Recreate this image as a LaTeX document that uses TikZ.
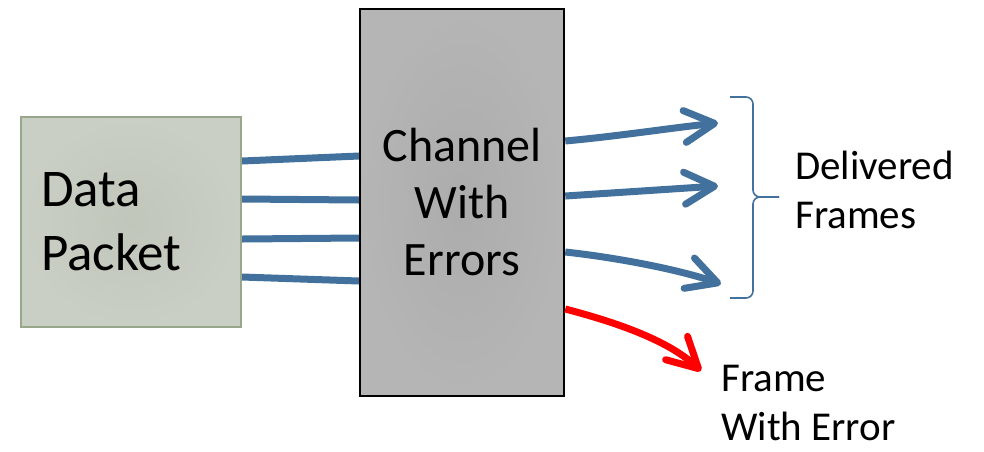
\documentclass[tikz,border=0pt]{standalone}
\usepackage{fontspec}
\setmainfont{Carlito}
\usepackage{tikz}
\usetikzlibrary{arrows.meta}

\definecolor{wireblue}{HTML}{41719C}
\definecolor{packetfill}{HTML}{C9CFC4}
\definecolor{packetdark}{HTML}{C0C6BA}
\definecolor{packetline}{HTML}{98A68B}

\begin{document}
\begin{tikzpicture}[x=1pt,y=-1pt]
\tikzset{packetbox/.style = {draw=packetline,line width=2pt,inner color=packetdark,outer color=packetfill,
  minimum width=220pt,minimum height=210pt,text width=180pt,align=left,
  font=\fontsize{53}{64}\selectfont}}
\tikzset{channelbox/.style = {draw=black,line width=2.5pt,inner color=gray!65,outer color=gray!58,
  minimum width=204pt,minimum height=387pt,align=center,font=\fontsize{48}{57}\selectfont}}
\tikzset{wire/.style = {draw=wireblue,line width=7pt}}
\tikzset{frame/.style = {wire,-{Straight Barb[length=30pt,width=32pt,round]}}}
\tikzset{lost/.style = {frame,draw=red}}
\tikzset{brace/.style = {draw=wireblue,line width=1.6pt,rounded corners=7pt}}
\tikzset{label/.style = {inner sep=0pt,align=left,font=\fontsize{41}{49}\selectfont}}
\useasboundingbox (0,0) rectangle (984,451);
% arrow ends
\coordinate (d1) at (718,123);
\coordinate (d2) at (718,186);
\coordinate (d3) at (721,284);
\coordinate (e) at (701,371);
% wires into the channel
\draw[wire] (242,161) -- (359,156);
\draw[wire] (242,199) -- (359,200);
\draw[wire] (242,239) -- (359,238);
\draw[wire] (242,277) -- (359,281);
% boxes
\node[packetbox] (packet) at (131,222) {Data\\Packet};
\node[channelbox] (channel) at (462,202.5) {Channel\\With\\Errors};
% frames out of the channel
\draw[frame] (channel.east |- 0,141) .. controls (620,136) and (670,128) .. (d1);
\draw[frame] (channel.east |- 0,196) -- (d2);
\draw[frame] (channel.east |- 0,252) .. controls (620,258) and (680,270) .. (d3);
\draw[lost] (channel.east |- 0,309) .. controls (615,322) and (668,340) .. (e);
% brace and labels
\coordinate (tip) at (779,197);
\draw[brace] (730,97) -- (753,97) -- (753,197) -- (tip);
\draw[brace] (730,298) -- (753,298) -- (753,197) -- (tip);
\node[label,anchor=base west] (delivered) at (795,228) {Delivered\\Frames};
\node[label,anchor=base west] (errframe) at (721,440) {Frame\\With Error};
\end{tikzpicture}
\end{document}
